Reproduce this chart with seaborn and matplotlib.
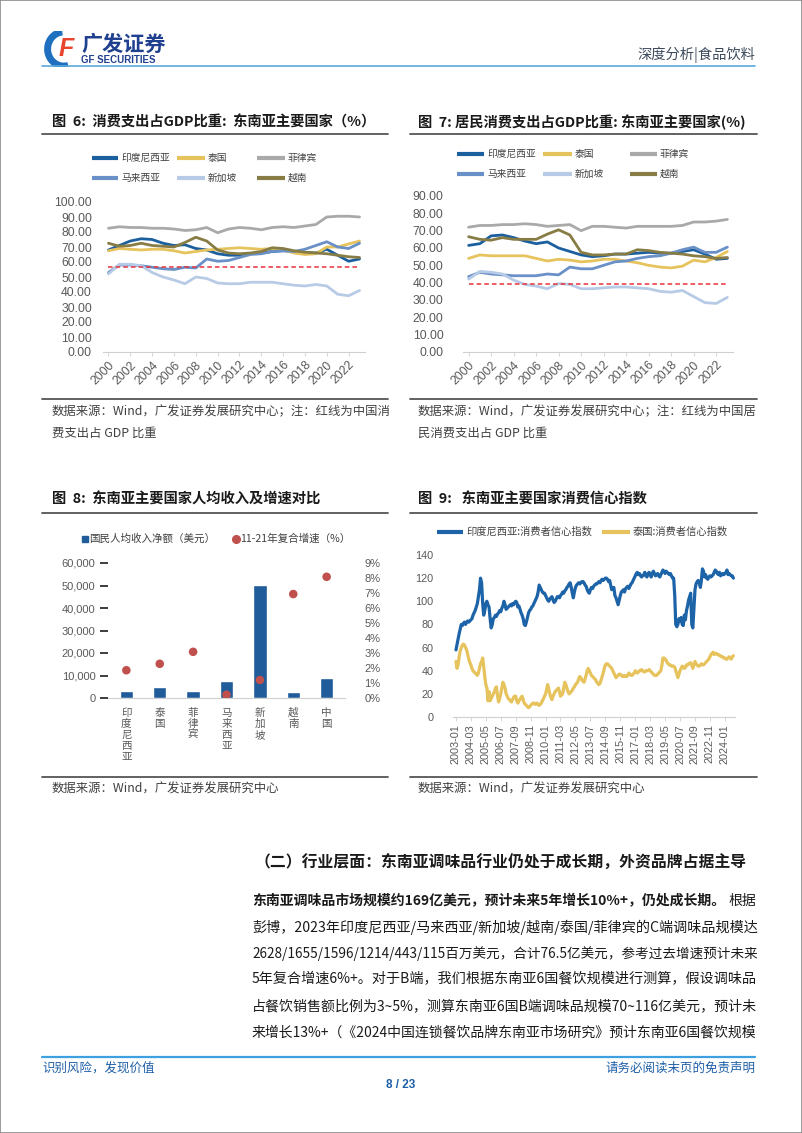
import matplotlib
matplotlib.use('Agg')
import matplotlib.pyplot as plt
from matplotlib.lines import Line2D
from matplotlib.patches import Arc, Rectangle
import seaborn as sns
import pandas as pd

W, H = 802, 1133

# ---------------- 数据 ----------------
years = list(range(2000, 2024))
countries = ['印度尼西亚', '泰国', '菲律宾', '马来西亚', '新加坡', '越南']
colors = ['#1c5f9f', '#e6c35c', '#a9a9a9', '#6a90c8', '#b7cbe6', '#887c45']

# 图6 消费支出占GDP比重 (%)
cons_idn = [68, 71, 74, 75.5, 75, 72.5, 71, 71.5, 69, 68, 65.5, 64.5, 64.5, 65.5, 66, 67, 67.5, 67, 66.5, 66, 68.5, 64.5, 60.5, 62]
cons_tha = [67.5, 69, 68.5, 68, 68.5, 68.5, 67.5, 66, 67, 68, 68.5, 69, 69.5, 69, 68.5, 69, 68, 66, 65, 65.5, 70, 70, 72, 74]
cons_phl = [82.5, 83.5, 83, 83, 82.5, 82.5, 82, 81, 81.5, 83, 79.5, 82, 83, 82.5, 81.5, 83, 83.5, 83, 84, 85, 90, 90.5, 90.5, 90]
cons_mys = [53, 58, 58, 57.5, 56.5, 55.5, 55, 56.5, 56, 62, 60.5, 61, 63, 65, 65.5, 67, 67.5, 67, 68.5, 71, 73.5, 70, 69, 72.5]
cons_sgp = [52, 58.5, 58.5, 57.5, 53, 50, 48, 45.5, 50, 49, 46, 45.5, 45.5, 46.5, 46.5, 46.5, 45.5, 44.5, 44, 45, 44, 38.5, 37.5, 41]
cons_vnm = [72.5, 70.5, 71, 72.5, 71, 70.5, 70, 73, 76.5, 74, 68, 66, 65.5, 66, 67, 69.5, 69, 67.5, 66.5, 66, 65.5, 64.5, 63.5, 63]
cons_china = 56.7

# 图7 居民消费支出占GDP比重 (%)
hh_idn = [61.5, 62.5, 67, 67.5, 66, 64, 62.5, 63.5, 60, 58, 56, 55, 55.5, 56.5, 56.5, 57, 57.5, 57, 57, 58, 59, 56.5, 53.5, 54]
hh_tha = [54, 56, 55.5, 55.5, 55.5, 55.5, 54, 52.5, 53.5, 53, 52, 52.5, 53.5, 53.5, 52.5, 51.5, 50, 49, 48.5, 49.5, 53, 52, 54.5, 58]
hh_phl = [72, 73, 73, 73.5, 73.5, 74, 73.5, 72.5, 73, 73.5, 70, 72.5, 72.5, 72, 71.5, 72.5, 72.5, 72.5, 72.5, 73, 75, 75, 75.5, 76.5]
hh_mys = [43.5, 46, 45, 44.5, 44, 44, 44, 45, 44.5, 49, 48, 48, 50, 52, 52.5, 54, 55, 55.5, 57, 59, 60.5, 57.5, 57.5, 60.5]
hh_sgp = [42, 46.5, 46, 45, 41.5, 39, 38, 36.5, 39.5, 39, 36.5, 36.5, 37, 37.5, 37.5, 37, 36.5, 35, 34.5, 35.5, 32, 28.5, 28, 31.5]
hh_vnm = [66.5, 65, 64.5, 66, 65, 65, 65, 68, 70.5, 67.5, 57.5, 56, 56, 56.5, 56.5, 59, 58.5, 57.5, 57, 56.5, 55.5, 55, 54, 54.5]
hh_china = 39.5

# 图8 人均收入及增速
cats8 = ['印度尼西亚', '泰国', '菲律宾', '马来西亚', '新加坡', '越南', '中国']
income = [3000, 5100, 2900, 7400, 50400, 2600, 8700]
growth = [0.0185, 0.0228, 0.0308, 0.0022, 0.0120, 0.0693, 0.0808]

# 图9 消费者信心指数 (月度, 2003-01 起)
idn_cci = [
    58, 63, 67, 72, 76, 80, 79, 81, 82, 80, 82, 83,
    82, 83, 84, 85, 88, 90, 92, 95, 98, 104, 110, 120,
    116, 98, 88, 92, 98, 100, 97, 95, 85, 77, 80, 85,
    86, 88, 87, 89, 90, 92, 91, 94, 96, 100, 97, 93,
    94, 95, 96, 97, 96, 98, 97, 99, 100, 99, 95, 96,
    93, 90, 88, 85, 80, 79, 82, 86, 90, 92, 93, 95,
    96, 98, 100, 102, 104, 108, 114, 112, 110, 108, 107, 107,
    105, 103, 101, 100, 102, 103, 104, 101, 99, 100, 102, 104,
    104, 103, 105, 106, 108, 107, 109, 110, 112, 113, 115, 116,
    112, 107, 103, 108, 112, 114, 115, 116, 115, 116, 117, 117,
    116, 114, 113, 110, 108, 107, 110, 112, 111, 113, 114, 115,
    115, 116, 117, 116, 118, 119, 118, 119, 120, 120, 119, 117,
    118, 114, 110, 111, 112, 105, 103, 100, 97, 101, 105, 108,
    109, 110, 108, 111, 112, 113, 111, 113, 115, 116, 118, 120,
    122, 124, 125, 123, 124, 122, 121, 122, 123, 125, 122, 121,
    124, 125, 123, 121, 124, 126, 124, 122, 123, 124, 122, 121,
    123, 125, 127, 126, 124, 126, 125, 124, 123, 124, 122, 120,
    120, 105, 80, 78, 80, 85, 83, 86, 80, 79, 88, 84,
    92, 96, 101, 104, 107, 80, 77, 94, 110, 115, 117, 118,
    116, 112, 118, 128, 126, 121, 123, 120, 119, 121, 122, 121,
    122, 123, 125, 127, 126, 124, 123, 125, 122, 123, 124, 123,
    124, 125, 127, 123, 124, 123, 122, 122, 120,
]
tha_cci = [
    48, 42, 45, 52, 57, 60, 62, 63, 62, 60, 58, 54,
    50, 47, 45, 42, 40, 39, 38, 37, 36, 38, 42, 46,
    48, 51, 44, 35, 28, 25, 14, 22, 14, 16, 18, 20,
    22, 25, 26, 18, 13, 16, 20, 25, 30, 28, 25, 20,
    18, 16, 15, 14, 13, 15, 17, 18, 18, 14, 12, 14,
    15, 17, 18, 15, 12, 11, 10, 9, 8, 9, 10, 11,
    12, 12, 11, 11, 12, 11, 10, 11, 12, 14, 16, 18,
    20, 24, 28, 24, 20, 17, 15, 18, 20, 22, 23, 24,
    25, 22, 18, 19, 20, 25, 30, 28, 25, 22, 20, 21,
    22, 23, 25, 26, 28, 29, 30, 33, 35, 34, 32, 31,
    30, 33, 36, 40, 42, 40, 38, 36, 35, 34, 33, 32,
    30, 29, 28, 29, 32, 35, 38, 42, 45, 46, 46, 45,
    44, 43, 42, 40, 38, 36, 34, 35, 36, 37, 37, 36,
    35, 35, 36, 35, 35, 36, 38, 37, 36, 36, 37, 38,
    40, 39, 38, 39, 40, 40, 41, 40, 39, 39, 40, 40,
    40, 41, 40, 39, 38, 37, 36, 36, 36, 37, 38, 39,
    40, 45, 51, 51, 50, 49, 47, 46, 45, 45, 44, 44,
    44, 43, 40, 37, 34, 37, 40, 42, 44, 43, 42, 43,
    45, 45, 46, 46, 47, 45, 42, 45, 48, 46, 45, 44,
    44, 45, 46, 45, 45, 46, 47, 48, 49, 50, 52, 54,
    55, 56, 54, 55, 55, 54, 54, 53, 53, 52, 52, 51,
    51, 50, 50, 51, 52, 51, 50, 52, 53,
]
months = pd.date_range('2003-01-01', periods=len(idn_cci), freq='MS')

para_lines = [
    '彭博，2023年印度尼西亚/马来西亚/新加坡/越南/泰国/菲律宾的C端调味品规模达',
    '2628/1655/1596/1214/443/115百万美元，合计76.5亿美元，参考过去增速预计未来',
    '5年复合增速6%+。对于B端，我们根据东南亚6国餐饮规模进行测算，假设调味品',
    '占餐饮销售额比例为3~5%，测算东南亚6国B端调味品规模70~116亿美元，预计未',
    '来增长13%+（《2024中国连锁餐饮品牌东南亚市场研究》预计东南亚6国餐饮规模',
]

# ---------------- 样式 ----------------
sns.set_theme(style='white')
plt.rcParams['font.family'] = ['Noto Sans CJK SC', 'DejaVu Sans']
plt.rcParams['axes.unicode_minus'] = False

TXT = '#404040'
TICK = '#595959'
NUM_FONT = ['Liberation Sans', 'DejaVu Sans']

fig = plt.figure(figsize=(W / 100, H / 100), dpi=100)
renderer = fig.canvas.get_renderer()


def fx(x):
    return x / W


def fy(y):
    return 1 - y / H


def box(x0, y0, x1, y1):
    return [fx(x0), fy(y1), (x1 - x0) / W, (y1 - y0) / H]


def ftext(x, y, s, **kw):
    kw.setdefault('va', 'center')
    return fig.text(fx(x), fy(y), s, **kw)


def hline(x0, x1, y, color, lw):
    fig.add_artist(Line2D([fx(x0), fx(x1)], [fy(y), fy(y)], color=color, lw=lw))


def leg_line(x0, x1, y, color, label, lw=3, size=7):
    fig.add_artist(Line2D([fx(x0), fx(x1)], [fy(y), fy(y)], color=color, lw=lw,
                          solid_capstyle='butt'))
    ftext(x1 + 3, y, label, fontsize=size, color=TXT)


def num_font(ax):
    for lbl in ax.get_yticklabels():
        lbl.set_fontfamily(NUM_FONT)


def style_axis(ax, size=7.5):
    for s in ['left', 'right', 'top']:
        ax.spines[s].set_visible(False)
    ax.spines['bottom'].set_color('#d0d0d0')
    ax.spines['bottom'].set_linewidth(0.8)
    ax.tick_params(axis='x', bottom=True, length=3, width=0.6, color='#d0d0d0',
                   labelsize=size, labelcolor=TICK, pad=2)
    ax.tick_params(axis='y', left=False, labelsize=size, labelcolor=TICK)
    ax.set_xlabel('')
    ax.set_ylabel('')


# ---------------- 页眉 ----------------
fig.add_artist(Rectangle((0, 0), 1, 1, transform=fig.transFigure, fill=False,
                         edgecolor='#8a8a8a', lw=1.2))
logo = fig.add_axes(box(44, 31, 80, 67))
logo.set_xlim(0, 1)
logo.set_ylim(0, 1)
logo.set_aspect('equal')
logo.axis('off')
logo.add_patch(Arc((0.55, 0.5), 0.9, 0.95, theta1=95, theta2=285, color='#1e6fc0', lw=5))
logo.text(0.62, 0.5, 'F', fontsize=18, fontweight='bold', style='italic', color='#e8452c',
          ha='center', va='center', family=NUM_FONT)
ftext(81, 44, '广发证券', fontsize=15.2, fontweight='bold', color='#1f3f8f')
ftext(81, 60, 'GF SECURITIES', fontsize=7, fontweight='bold', color='#1f3f8f',
      family=NUM_FONT)
ftext(755, 55, '深度分析|食品饮料', fontsize=10.3, color='#3c4a5c', ha='right')
hline(42, 755, 66, '#5aa9dc', 1.2)


# ---------------- 图6 / 图7 ----------------
def consumption_chart(ax, series, china, ymax):
    df = pd.DataFrame({'year': years * len(countries),
                       'value': sum(series, []),
                       'country': [c for c in countries for _ in years]})
    sns.lineplot(data=df, x='year', y='value', hue='country', hue_order=countries,
                 palette=colors, linewidth=2, legend=False, ax=ax)
    ax.hlines(china, years[0], years[-1], colors='#e8323c', linestyles=(0, (3, 2)), lw=1.1)
    ax.set_xlim(years[0] - 0.5, years[-1] + 0.5)
    ax.set_ylim(0, ymax)
    ax.set_yticks(range(0, ymax + 1, 10))
    ax.set_yticklabels([f'{v:.2f}' for v in range(0, ymax + 1, 10)])
    ax.set_xticks(years[::2])
    ax.set_xticklabels([str(y) for y in years[::2]], rotation=45, ha='right',
                       rotation_mode='anchor', family=NUM_FONT)
    style_axis(ax, size=8.8)
    num_font(ax)


ax6 = fig.add_axes(box(103, 202, 365, 352))
consumption_chart(ax6, [cons_idn, cons_tha, cons_phl, cons_mys, cons_sgp, cons_vnm], cons_china, 100)
ax6.tick_params(axis='y', pad=2)

ax7 = fig.add_axes(box(463, 196, 733, 352))
consumption_chart(ax7, [hh_idn, hh_tha, hh_phl, hh_mys, hh_sgp, hh_vnm], hh_china, 90)
ax7.tick_params(axis='y', pad=8)

ftext(52, 122, '图  6:  消费支出占GDP比重:  东南亚主要国家（%）', fontsize=10.3, fontweight='bold', color='#1a1a1a')
ftext(418, 122, '图  7: 居民消费支出占GDP比重: 东南亚主要国家(%)', fontsize=10.3, fontweight='bold', color='#1a1a1a')
hline(42, 388, 134, '#555555', 1.3)
hline(410, 757, 134, '#555555', 1.3)

leg6 = [(92, 118, 158), (177, 205, 158), (257, 285, 158), (92, 118, 178), (177, 205, 178), (257, 285, 178)]
leg7 = [(457, 484, 154), (543, 572, 154), (630, 657, 154), (457, 484, 174), (543, 572, 174), (630, 657, 174)]
for (x0, x1, y), (a0, a1, b), c, name in zip(leg6, leg7, colors, countries):
    leg_line(x0, x1, y, c, name)
    leg_line(a0, a1, b, c, name)

hline(42, 388, 399, '#555555', 1.3)
hline(410, 757, 399, '#555555', 1.3)
SRC = 8.9
ftext(52, 412, '数据来源：Wind，广发证券发展研究中心；注：红线为中国消', fontsize=SRC, color=TXT)
ftext(52, 433, '费支出占 GDP 比重', fontsize=SRC, color=TXT)
ftext(418, 412, '数据来源：Wind，广发证券发展研究中心；注：红线为中国居', fontsize=SRC, color=TXT)
ftext(418, 433, '民消费支出占 GDP 比重', fontsize=SRC, color=TXT)

# ---------------- 图8 ----------------
ftext(52, 500, '图  8:  东南亚主要国家人均收入及增速对比', fontsize=10.3, fontweight='bold', color='#1a1a1a')
hline(42, 388, 513, '#555555', 1.3)

ax8 = fig.add_axes(box(108, 563, 345, 698))
df8 = pd.DataFrame({'country': cats8, 'income': income})
sns.barplot(data=df8, x='country', y='income', color='#1f5c99', saturation=1,
            width=0.4, ax=ax8)
ax8.set_xlim(-0.55, 6.55)
ax8.set_ylim(0, 60000)
ax8.set_yticks(range(0, 60001, 10000))
ax8.set_yticklabels([f'{v:,}' for v in range(0, 60001, 10000)])
ax8.set_xticks(range(len(cats8)))
style_axis(ax8, size=8)
ax8.set_xticklabels(['\n'.join(c) for c in cats8], linespacing=1.12, fontsize=7.6)
ax8.tick_params(axis='x', length=0, pad=7)
ax8.tick_params(axis='y', pad=3)
num_font(ax8)

ax8r = ax8.twinx()
sns.scatterplot(x=list(range(len(cats8))), y=growth, color='#c0504d', s=38,
                edgecolor='none', ax=ax8r, zorder=5)
ax8r.set_ylim(0, 0.09)
ax8r.set_yticks([i / 100 for i in range(10)])
ax8r.set_yticklabels([f'{i}%' for i in range(10)])
for s in ['left', 'right', 'top', 'bottom']:
    ax8r.spines[s].set_visible(False)
ax8r.tick_params(axis='y', right=False, labelsize=8, labelcolor=TICK, pad=8)
ax8r.set_ylabel('')
num_font(ax8r)

fig.add_artist(Line2D([fx(85)], [fy(539)], marker='s', markersize=4.5, color='#1f5c99', lw=0))
ftext(89, 539, '国民人均收入净额（美元）', fontsize=7.6, color=TXT)
fig.add_artist(Line2D([fx(236)], [fy(539)], marker='o', markersize=5.5, color='#c0504d', lw=0))
ftext(240, 539, '11-21年复合增速（%）', fontsize=7.6, color=TXT)

hline(42, 388, 777, '#555555', 1.3)
ftext(52, 789, '数据来源：Wind，广发证券发展研究中心', fontsize=SRC, color=TXT)

# ---------------- 图9 ----------------
ftext(418, 500, '图  9:   东南亚主要国家消费信心指数', fontsize=10.3, fontweight='bold', color='#1a1a1a')
hline(410, 757, 513, '#555555', 1.3)

ax9 = fig.add_axes(box(453, 555, 735, 717))
sns.lineplot(x=months, y=tha_cci, color='#e6c35c', linewidth=2.3, ax=ax9)
sns.lineplot(x=months, y=idn_cci, color='#1c63a8', linewidth=2.3, ax=ax9)
ax9.set_ylim(0, 140)
ax9.set_yticks(range(0, 141, 20))
ax9.set_xlim(months[0] - pd.Timedelta(days=85), months[-1] + pd.Timedelta(days=45))
tick_months = months[::14]
ax9.set_xticks(tick_months)
ax9.set_xticklabels([d.strftime('%Y-%m') for d in tick_months], rotation=90,
                    family=NUM_FONT)
style_axis(ax9, size=7.8)
ax9.tick_params(axis='y', pad=8)
num_font(ax9)

leg_line(437, 463, 532, '#1c63a8', '印度尼西亚:消费者信心指数', size=7.4)
leg_line(602, 630, 532, '#e6c35c', '泰国:消费者信心指数', size=7.4)

hline(410, 757, 777, '#555555', 1.3)
ftext(418, 789, '数据来源：Wind，广发证券发展研究中心', fontsize=SRC, color=TXT)

# ---------------- 正文 ----------------
ftext(255, 862, '（二）行业层面：东南亚调味品行业仍处于成长期，外资品牌占据主导',
      fontsize=11.4, fontweight='bold', color='#1a1a1a')

LEFT, RIGHT = 252, 756
ftext(LEFT, 901, '东南亚调味品市场规模约169亿美元，预计未来5年增长10%+，仍处成长期。',
      fontsize=10, fontweight='bold', color='#1a1a1a')
ftext(RIGHT, 901, '根据', fontsize=10, color='#1a1a1a', ha='right')
for i, line in enumerate(para_lines):
    t = ftext(LEFT, 927 + 26.3 * i, line, fontsize=10, color='#1a1a1a')
    w = t.get_window_extent(renderer).width
    scale = min(max((RIGHT - LEFT) / w, 0.92), 1.08)
    t.set_fontsize(10 * scale)

hline(42, 755, 1057, '#3fa0e0', 1.6)
ftext(42, 1068, '识别风险，发现价值', fontsize=9, color='#1f5fa8')
ftext(755, 1068, '请务必阅读末页的免责声明', fontsize=9, color='#1f5fa8', ha='right')
ftext(401, 1085, '8 / 23', fontsize=8.5, color='#1f5fa8', ha='center', fontweight='bold',
      family=NUM_FONT)

fig.savefig('out.png', dpi=100)
